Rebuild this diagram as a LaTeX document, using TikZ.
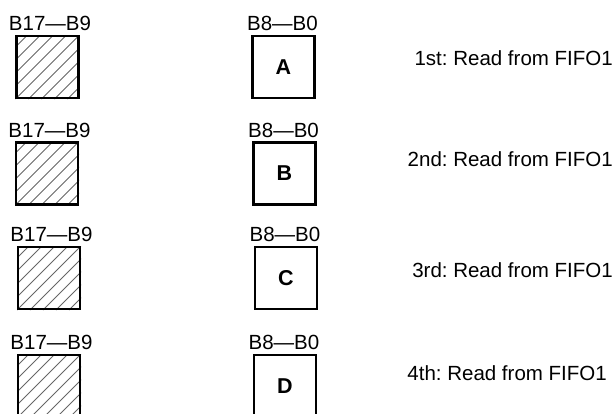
\documentclass[tikz,border=0pt]{standalone}
\usepackage{fontspec}
\setmainfont{Liberation Sans}
\begin{document}
\frenchspacing
\fontsize{20.5}{24}\selectfont
\begin{tikzpicture}[x=1pt,y=-1pt,
    reg/.style={draw,line width=2.8pt,minimum size=62pt,inner sep=0pt,font=\fontsize{21.5}{24}\bfseries},
    bits/.style={anchor=base,inner sep=0pt},
    note/.style={anchor=base east,inner sep=0pt},
    hatch/.style={gray!80!black,line width=0.8pt}]
  \useasboundingbox (0,0) rectangle (616,413);
  \foreach \r/\y/\hx/\lx/\c/\ty/\tx/\n in
      {1/67/47.5/283.5/A/65/613/1st,
       2/173.5/47/284.5/B/166/613/2nd,
       3/278/49/286/C/277/613/3rd,
       4/386/49/285/D/380/607/4th}{
    % hatched upper part
    \begin{scope}
      \clip (\hx-32,\y-32) rectangle (\hx+32,\y+32);
      \foreach \k in {-65,-52,...,65}
        \draw[hatch] (\hx-32+\k,\y+32) -- ++(64,-64);
    \end{scope}
    \node[reg] (hi\r) at (\hx,\y) {};
    \node[reg] (lo\r) at (\lx,\y) {\c};
    \node[bits] (hl\r) at (\hx+2.5,\y-36.5) {B17---B9};
    \node[bits] (ll\r) at (\lx-1,\y-36.5) {B8---B0};
    \node[note] (rd\r) at (\tx,\ty) {\n: Read from FIFO1};
  }
\end{tikzpicture}
\end{document}
